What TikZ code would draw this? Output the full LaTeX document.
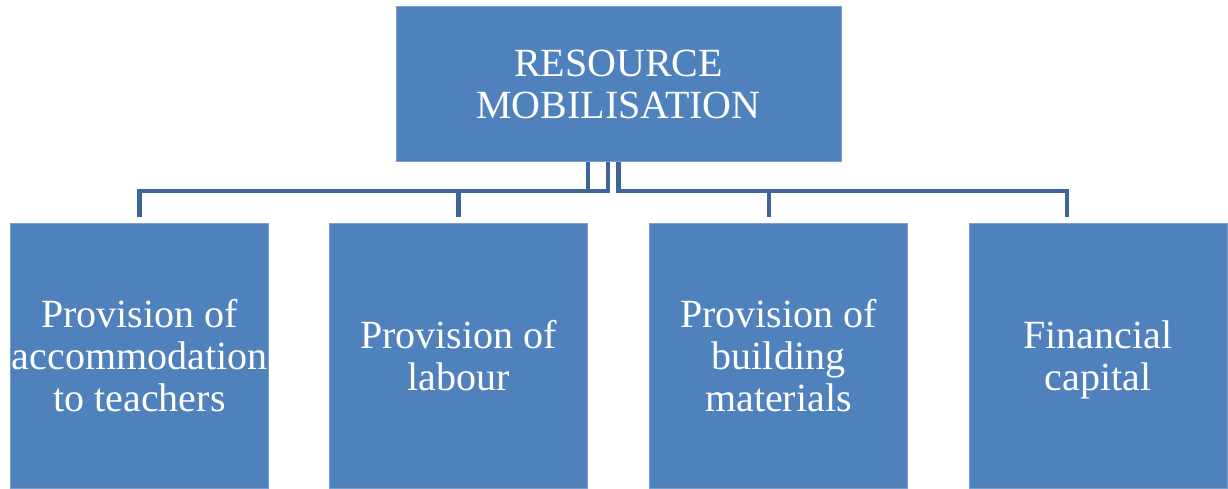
\documentclass[tikz,border=0pt]{standalone}
\usepackage{fontspec}
\setmainfont{Liberation Serif}
\definecolor{boxfill}{HTML}{4F81BD}
\definecolor{boxline}{HTML}{7A9FCE}
\definecolor{connline}{HTML}{3D6597}
\tikzset{
  box/.style={draw=boxline, line width=1pt, fill=boxfill, text=white, align=center,
    font=\fontsize{40}{42}\selectfont, inner sep=0pt},
  conn/.style={draw=connline, line width=4.5pt}
}
\begin{document}
\begin{tikzpicture}[x=1pt,y=-1pt]
\useasboundingbox (0,0) rectangle (1228,489);
\node[box, minimum width=445pt, minimum height=155pt] (top) at (618.5,84.5) {RESOURCE\\MOBILISATION};
\node[box, minimum width=258pt, minimum height=265pt] (b1) at (139.5,356) {Provision of\\accommodation\\to teachers};
\node[box, minimum width=258pt, minimum height=265pt] (b2) at (458.5,356) {Provision of\\labour};
\node[box, minimum width=258pt, minimum height=265pt] (b3) at (778.5,356) {Provision of\\building\\materials};
\node[box, minimum width=258pt, minimum height=265pt] (b4) at (1098,356) {Financial\\\smash{capital}};
\draw[conn] ([xshift=-10.5pt]top.south) -- ++(0,28.5) -| ([yshift=6pt]b1.north);
\draw[conn] ([xshift=-30.5pt]top.south) -- ++(0,28.5) -| ([yshift=6pt]b2.north);
\draw[conn] ([xshift=0pt]top.south) -- ++(0,28.5) -| ([xshift=-9.5pt,yshift=6pt]b3.north);
\draw[conn] ([xshift=0pt]top.south) -- ++(0,28.5) -| ([xshift=-31pt,yshift=6pt]b4.north);
\end{tikzpicture}
\end{document}
